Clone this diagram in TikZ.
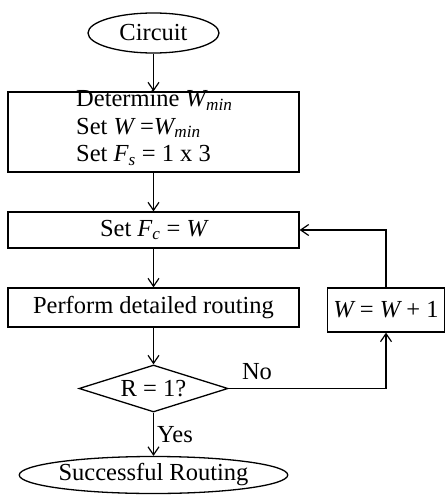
\documentclass[tikz,border=0pt]{standalone}
\usepackage{fontspec}
\setmainfont{Liberation Serif}
\usetikzlibrary{shapes.geometric,arrows.meta}
\tikzset{
  base/.style={draw, line width=1.3pt, inner sep=0pt, font=\fontsize{24.5}{27.5}\selectfont},
  procbox/.style={base, rectangle, minimum width=291pt},
  termnode/.style={base, ellipse},
  decide/.style={base, diamond, minimum width=149pt, minimum height=47pt, aspect=3.17},
  flow/.style={line width=1.3pt, -{Straight Barb[length=8pt,width=11pt,line width=1.2pt]}},
  lbl/.style={inner sep=0pt, font=\fontsize{24.5}{27.5}\selectfont}
}
\newcommand{\Wmin}{{\itshape W}\textsubscript{\itshape min}}
\begin{document}
\begin{tikzpicture}[x=1pt,y=-1pt]
\useasboundingbox (0,0) rectangle (445,495);
\node[termnode, minimum width=131pt, minimum height=40pt] (circ) at (153.5,33) {Circuit};
\node[procbox, minimum height=80pt] (init) at (153.5,132) {};
\node[lbl, anchor=west, align=left] (inittext) at (76,128) {Determine \Wmin\\Set {\itshape W} =\Wmin\\Set {\itshape F}\textsubscript{\itshape s} = 1 x 3};
\node[procbox, minimum height=36pt] (setfc) at (153.5,230) {Set {\itshape F}\textsubscript{\itshape c} = {\itshape W}};
\node[procbox, minimum height=39pt] (route) at (153.5,307.5) {Perform detailed routing};
\node[decide] (dec) at (153.5,388.5) {R = 1?};
\node[termnode, minimum width=227pt, minimum height=37pt] (succ) at (153.5,475) {Successful Routing};
\node[base, rectangle, minimum width=117pt, minimum height=44pt] (inc) at (386,310) {{\itshape W} = {\itshape W} + 1};
\coordinate (nocorner) at (inc.south |- dec.east);
\coordinate (upcorner) at (inc.north |- setfc.east);
\draw[flow] (circ) -- (init);
\draw[flow] (init) -- (setfc);
\draw[flow] (setfc) -- (route);
\draw[flow] (route) -- (dec);
\draw[flow] (dec) -- (succ) node[lbl, midway, right=3pt] (yes) {Yes};
\draw[flow] (dec.east) -- (nocorner) -- (inc.south);
\draw[flow] (inc.north) -- (upcorner) -- (setfc.east);
\node[lbl] (no) at (257,372) {No};
\end{tikzpicture}
\end{document}
